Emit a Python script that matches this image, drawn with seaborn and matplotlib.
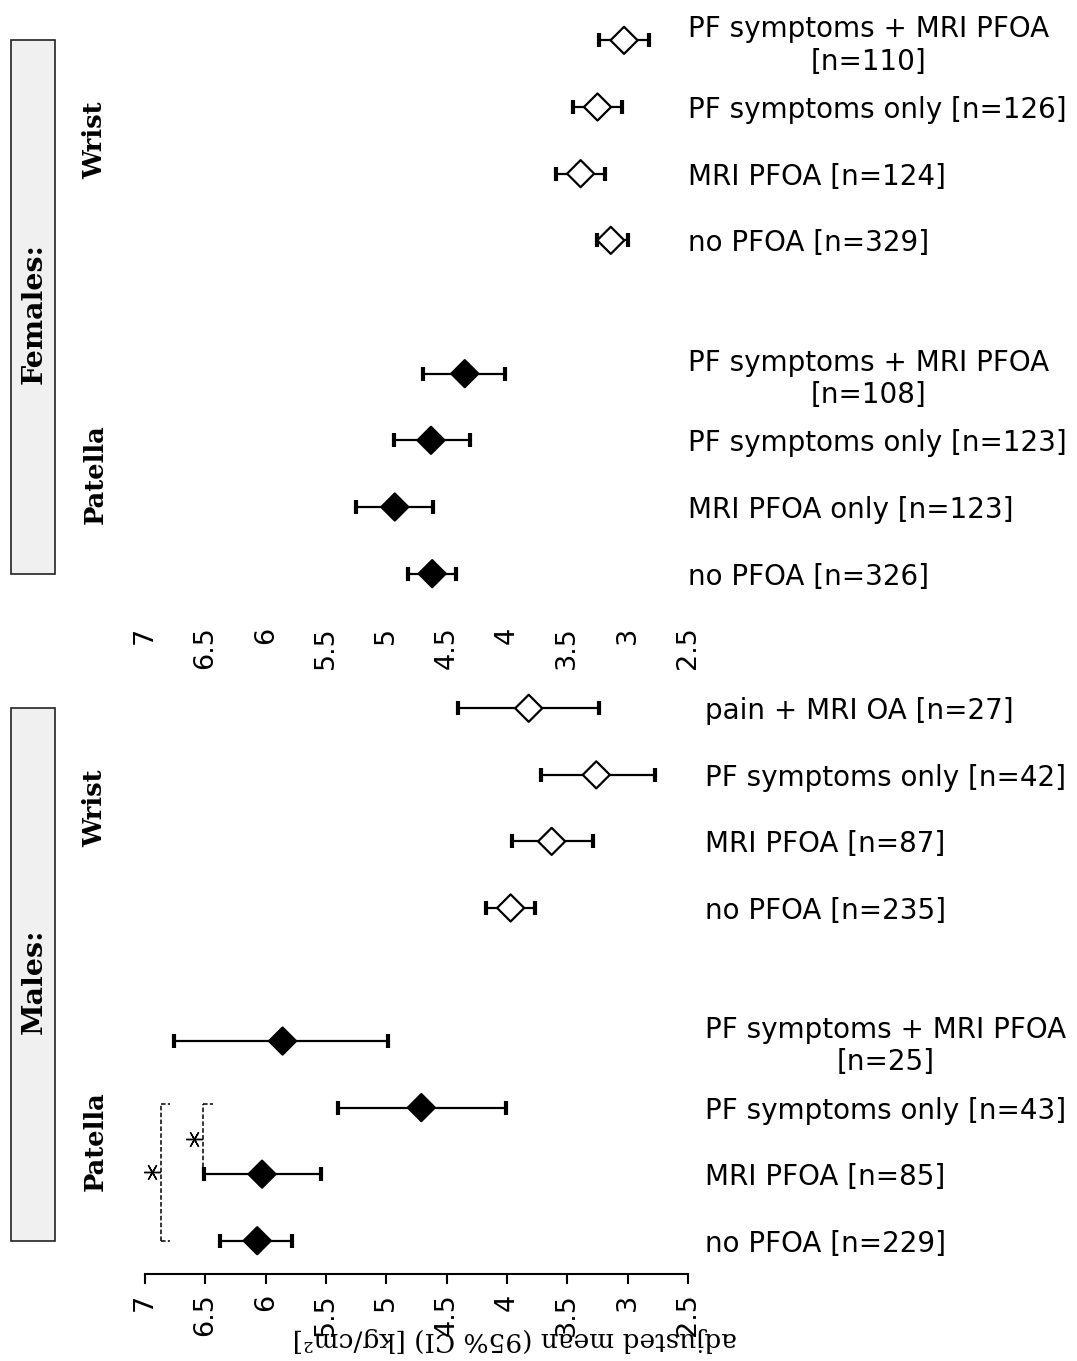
import numpy as np
import pandas as pd
import matplotlib
matplotlib.use("Agg")
import matplotlib.pyplot as plt
import matplotlib.transforms as mtransforms
from matplotlib.patches import Rectangle
import seaborn as sns

sns.set_theme(style="ticks")
plt.rcParams["font.family"] = ["DejaVu Sans"]
plt.rcParams["text.color"] = "black"
plt.rcParams["xtick.color"] = "black"
plt.rcParams["ytick.color"] = "black"
plt.rcParams["axes.labelcolor"] = "black"

# -----------------------------------
# Data (adjusted means with 95% CI, kg/cm2)
# -----------------------------------
sites = ["Wrist", "Patella"]

f_wrist_labels = ["PF symptoms + MRI PFOA\n[n=110]", "PF symptoms only [n=126]",
                  "MRI PFOA [n=124]", "no PFOA [n=329]"]
f_wrist_mean = [3.03, 3.25, 3.39, 3.14]
f_wrist_lo = [2.82, 3.05, 3.19, 3.00]
f_wrist_hi = [3.24, 3.45, 3.59, 3.25]

f_patella_labels = ["PF symptoms + MRI PFOA\n[n=108]", "PF symptoms only [n=123]",
                    "MRI PFOA only [n=123]", "no PFOA [n=326]"]
f_patella_mean = [4.35, 4.63, 4.93, 4.62]
f_patella_lo = [4.02, 4.31, 4.61, 4.42]
f_patella_hi = [4.70, 4.94, 5.25, 4.82]

m_wrist_labels = ["pain + MRI OA [n=27]", "PF symptoms only [n=42]",
                  "MRI PFOA [n=87]", "no PFOA [n=235]"]
m_wrist_mean = [3.82, 3.26, 3.63, 3.97]
m_wrist_lo = [3.24, 2.77, 3.29, 3.77]
m_wrist_hi = [4.41, 3.72, 3.96, 4.17]

m_patella_labels = ["PF symptoms + MRI PFOA\n[n=25]", "PF symptoms only [n=43]",
                    "MRI PFOA [n=85]", "no PFOA [n=229]"]
m_patella_mean = [5.86, 4.71, 6.03, 6.07]
m_patella_lo = [4.99, 4.01, 5.54, 5.78]
m_patella_hi = [6.76, 5.40, 6.51, 6.38]

x_ticks = [7, 6.5, 6, 5.5, 5, 4.5, 4, 3.5, 3, 2.5]

# significance brackets (males, patella): row a, row b, x level
sig_rows = [("MRI PFOA [n=85]", "PF symptoms only [n=43]"),
            ("no PFOA [n=229]", "PF symptoms only [n=43]")]
sig_x = [6.52, 6.87]


def build(sex, blocks):
    rows = []
    pos = 0
    for site, labels, mean, lo, hi in blocks:
        for lab, m, l, h in zip(labels, mean, lo, hi):
            rows.append(dict(sex=sex, site=site, label=lab, mean=m, lo=l, hi=h, pos=pos))
            pos += 1
        pos += 1
    return rows


df = pd.DataFrame(
    build("Females", [("Wrist", f_wrist_labels, f_wrist_mean, f_wrist_lo, f_wrist_hi),
                      ("Patella", f_patella_labels, f_patella_mean, f_patella_lo, f_patella_hi)])
    + build("Males", [("Wrist", m_wrist_labels, m_wrist_mean, m_wrist_lo, m_wrist_hi),
                      ("Patella", m_patella_labels, m_patella_mean, m_patella_lo, m_patella_hi)])
)

# -----------------------------------
# Figure
# -----------------------------------
W, H = 1077, 1361
fig = plt.figure(figsize=(W / 100, H / 100), dpi=100)
left = 145 / W
width = 543 / W
ax_f = fig.add_axes([left, 1 - 607 / H, width, 600 / H])
ax_m = fig.add_axes([left, 1 - 1274 / H, width, 599 / H])

serif = "DejaVu Serif"

for ax, sex in [(ax_f, "Females"), (ax_m, "Males")]:
    sub = df[df["sex"] == sex]
    ax.errorbar(sub["mean"], sub["pos"],
                xerr=[sub["mean"] - sub["lo"], sub["hi"] - sub["mean"]],
                fmt="none", ecolor="black", elinewidth=1.6, capsize=5, capthick=3, zorder=2)
    sns.scatterplot(data=sub, x="mean", y="pos", hue="site",
                    palette={"Patella": "black", "Wrist": "white"},
                    marker="D", s=190, edgecolor="black", linewidth=1.6,
                    legend=False, ax=ax, zorder=3)
    ax.set_xlim(7, 2.5)
    ax.set_ylim(8.5, -0.5)
    ax.set_xlabel("")
    ax.set_ylabel("")

    ax.set_xticks(x_ticks)
    ax.set_xticklabels([f"{v:g}" for v in x_ticks])
    ax.tick_params(axis="x", labelrotation=90, labelsize=19.5, length=7, width=1.5, pad=7,
                   color="black" if sex == "Males" else "none")

    ax.yaxis.tick_right()
    ax.set_yticks(sub["pos"])
    ax.set_yticklabels(sub["label"])
    ax.tick_params(axis="y", length=0, labelsize=20, pad=0 if sex == "Females" else 12)
    for t in ax.get_yticklabels():
        t.set_multialignment("center")

    sns.despine(ax=ax, left=True, right=True, top=True, bottom=(sex == "Females"))
    ax.spines["bottom"].set_linewidth(1.5)
    ax.spines["bottom"].set_color("black")

    # strip box + group labels
    blend = mtransforms.blended_transform_factory(fig.transFigure, ax.transData)
    ax.add_patch(Rectangle((11 / W, 0), 44 / W, 8, transform=blend, clip_on=False,
                           facecolor="#f0f0f0", edgecolor="#222222", linewidth=1.2))
    ax.text(34 / W, 4.1, sex + ":", transform=blend, rotation=90, ha="center", va="center",
            fontsize=20.5, fontweight="bold", family=serif)
    for site in sites:
        yc = sub.loc[sub["site"] == site, "pos"].mean()
        ax.text(95 / W, yc, site, transform=blend, rotation=90, ha="center", va="center",
                fontsize=18.5, fontweight="bold", family=serif)

# significance brackets
sub_m = df[df["sex"] == "Males"].set_index("label")
for (ra, rb), xb in zip(sig_rows, sig_x):
    ya = sub_m.loc[ra, "pos"]
    yb = sub_m.loc[rb, "pos"] - 0.06
    ax_m.plot([xb, xb], [ya, yb], color="black", lw=1.1, ls=(0, (3, 1.5)), clip_on=False)
    ax_m.plot([xb, xb - 0.08], [yb, yb], color="black", lw=1.1, ls=(0, (3, 1.5)), clip_on=False)
    if xb > 6.6:
        ax_m.plot([xb, xb - 0.08], [ya, ya], color="black", lw=1.1, ls=(0, (3, 1.5)), clip_on=False)
    ax_m.plot([xb + 0.075], [(ya + yb) / 2], marker=(6, 2, 90), ms=12, mew=1.0,
              color="black", clip_on=False)

ax_m.set_xlabel("adjusted mean (95% CI) [kg/cm²]", rotation=180, fontsize=19,
                family=serif, va="center", ha="center")
ax_m.xaxis.set_label_coords(0.681, -0.110)

fig.savefig("out.png", dpi=100)
